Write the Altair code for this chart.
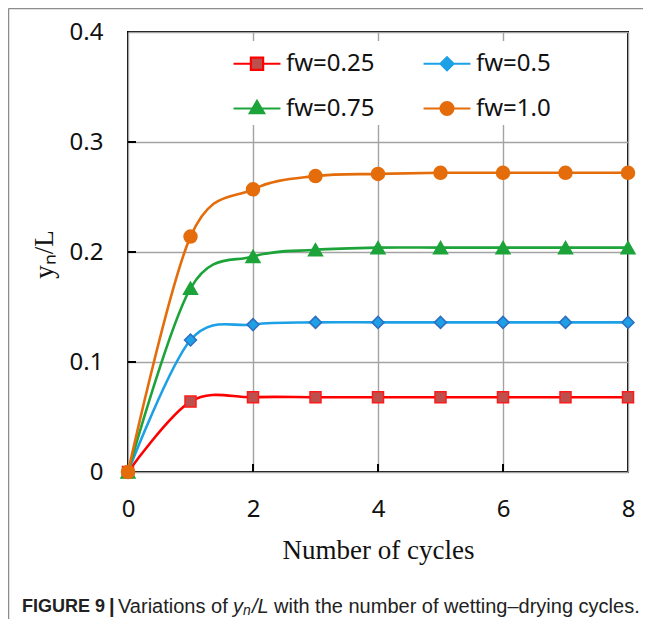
import altair as alt
import pandas as pd

# ---------------- data ----------------
cycles = [0, 1, 2, 3, 4, 5, 6, 7, 8]
fw_025 = [0, 0.064, 0.068, 0.068, 0.068, 0.068, 0.068, 0.068, 0.068]
fw_05 = [0, 0.120, 0.134, 0.136, 0.136, 0.136, 0.136, 0.136, 0.136]
fw_075 = [0, 0.167, 0.196, 0.202, 0.204, 0.204, 0.204, 0.204, 0.204]
fw_10 = [0, 0.214, 0.257, 0.269, 0.271, 0.272, 0.272, 0.272, 0.272]
series_names = ["fw=0.25", "fw=0.5", "fw=0.75", "fw=1.0"]
x_tick_values = [0, 2, 4, 6, 8]
y_tick_values = [0, 0.1, 0.2, 0.3, 0.4]
inner_x_ticks = [2, 4, 6]
inner_y_ticks = [0.1, 0.2, 0.3]
x_title = "Number of cycles"
y_title = "yₙ/L"

# ---------------- styles ----------------
line_colors = ["#ff0000", "#1ea0e6", "#1ca43a", "#e46c0a"]
marker_fills = ["#bd504c", "#1ea0e6", "#1ca43a", "#e46c0a"]
marker_strokes = ["#ff1a1a", "#2f6fbf", "#1ca43a", "#e46c0a"]
marker_shapes = ["square", "diamond", "triangle-up", "circle"]
marker_sizes = [121, 144, 196, 169]
legend_paths = [
    "M-1.38,0H-0.36M0.36,0H1.38M-0.36,-0.36H0.36V0.36H-0.36Z",
    "M-1.38,0H-0.38M0.38,0H1.38M0,-0.38L0.38,0L0,0.38L-0.38,0Z",
    "M-1.38,0H-0.26M0.26,0H1.38M0,-0.44L0.42,0.28L-0.42,0.28Z",
    "M-1.38,0H-0.38M0.38,0H1.38M0.38,0A0.38,0.38,0,1,1,-0.38,0A0.38,0.38,0,1,1,0.38,0Z",
]

W, H = 500, 440

rows = []
for name, vals in zip(series_names, [fw_025, fw_05, fw_075, fw_10]):
    for c, v in zip(cycles, vals):
        rows.append({"cycle": c, "value": v, "series": name})
df = pd.DataFrame(rows)

x_axis = alt.Axis(
    values=x_tick_values, grid=True, ticks=False, domain=False, labelFlush=False,
    gridColor="#a3a3a3", gridWidth=1.4,
    labelFont="Noto Sans", labelFontSize=24, labelColor="#111", labelPadding=25,
    title=x_title, titleFont="Liberation Serif", titleFontSize=27,
    titleFontWeight="normal", titleColor="#111", titleY=78, titleBaseline="middle",
)
y_axis = alt.Axis(
    values=y_tick_values, grid=True, ticks=False, domain=False, labelFlush=False,
    gridColor="#a3a3a3", gridWidth=1.4,
    labelFont="Noto Sans", labelFontSize=24, labelColor="#111", labelPadding=25,
    labelExpr="datum.value == 0 ? '0' : format(datum.value, '.1f')",
    title=y_title, titleFont="Liberation Serif", titleFontSize=27,
    titleFontWeight="normal", titleColor="#111", titleX=-84, titleY=222,
    titleBaseline="middle", titleAngle=270,
)
x_scale = alt.Scale(domain=[0, 8], nice=False, zero=False)
y_scale = alt.Scale(domain=[0, 0.4], nice=False)
X = alt.X("cycle:Q", scale=x_scale, axis=x_axis)
Y = alt.Y("value:Q", scale=y_scale, axis=y_axis)

base = alt.Chart(df)
layers = []
for i, name in enumerate(series_names):
    sub = base.transform_filter(alt.datum.series == name)
    layers.append(
        sub.mark_line(color=line_colors[i], strokeWidth=2.6, interpolate="cardinal").encode(x=X, y=Y)
    )
    layers.append(
        sub.mark_point(
            shape=marker_shapes[i], filled=True, fill=marker_fills[i],
            stroke=marker_strokes[i], strokeWidth=1.5, size=marker_sizes[i], opacity=1,
        ).encode(x=X, y=Y)
    )

# inner tick marks
xt_df = pd.DataFrame({"cycle": inner_x_ticks})
yt_df = pd.DataFrame({"value": inner_y_ticks})
x_ticks_layer = alt.Chart(xt_df).mark_rule(color="black", strokeWidth=2).encode(
    x=X, y=alt.value(H), y2=alt.value(H - 8)
)
y_ticks_layer = alt.Chart(yt_df).mark_rule(color="black", strokeWidth=2).encode(
    y=Y, x=alt.value(0), x2=alt.value(8)
)

# legend (drawn from an empty layer so only the legend shows)
leg = alt.Legend(
    orient="none", legendX=106.5, legendY=9, columns=2, direction="horizontal", title=None,
    symbolSize=1156, symbolStrokeWidth=2.2, labelFont="Noto Sans", labelFontSize=24,
    labelColor="#111", labelOffset=10.5, rowPadding=14, columnPadding=44,
    padding=4, fillColor="white", symbolOpacity=1,
)
legend_layer = base.transform_filter("datum.cycle < 0").mark_point(
    filled=True, size=1156, opacity=1, strokeWidth=2.2
).encode(
    x=X, y=Y,
    fill=alt.Fill("series:N", scale=alt.Scale(domain=series_names, range=marker_fills), legend=leg),
    stroke=alt.Stroke("series:N", scale=alt.Scale(domain=series_names, range=line_colors), legend=leg),
    shape=alt.Shape("series:N", scale=alt.Scale(domain=series_names, range=legend_paths), legend=leg),
)

# figure border (top and left visible) and caption
one = pd.DataFrame({"k": [0]})
border_top = alt.Chart(one).mark_rule(color="#8c8c8c", strokeWidth=1.5).encode(
    x=alt.value(-119.5), x2=alt.value(W + 40), y=alt.value(-23.5)
)
border_left = alt.Chart(one).mark_rule(color="#8c8c8c", strokeWidth=1.5).encode(
    x=alt.value(-119.5), y=alt.value(-23.5), y2=alt.value(H + 160)
)

cap_y = 575
caption_parts = [
    ("FIGURE 9", -106, cap_y, "bold", "normal", 18),
    ("|", -19, cap_y, "bold", "normal", 20),
    ("Variations of", -10, cap_y, "normal", "normal", 20),
    ("y", 105, cap_y, "normal", "italic", 20),
    ("n", 115, cap_y + 4, "normal", "italic", 14),
    ("/L", 124, cap_y, "normal", "italic", 20),
    ("with the number of wetting–drying cycles.", 146, cap_y, "normal", "normal", 20),
]
caption_layers = []
for txt, cx, cy, fw, fs, sz in caption_parts:
    caption_layers.append(
        alt.Chart(one).mark_text(
            text=txt, align="left", baseline="middle", font="Liberation Sans",
            fontWeight=fw, fontStyle=fs, fontSize=sz, color="#222",
        ).encode(x=alt.value(cx), y=alt.value(cy))
    )

chart = alt.layer(
    *layers, x_ticks_layer, y_ticks_layer, legend_layer,
    border_top, border_left, *caption_layers
).properties(
    width=W, height=H,
    autosize=alt.AutoSizeParams(type="none"),
    padding={"left": 120, "top": 24, "right": 15, "bottom": 147},
    background="white",
).configure_view(
    stroke="black", strokeWidth=2
)

chart.save("out.html", embed_options={"renderer": "svg", "actions": False})
